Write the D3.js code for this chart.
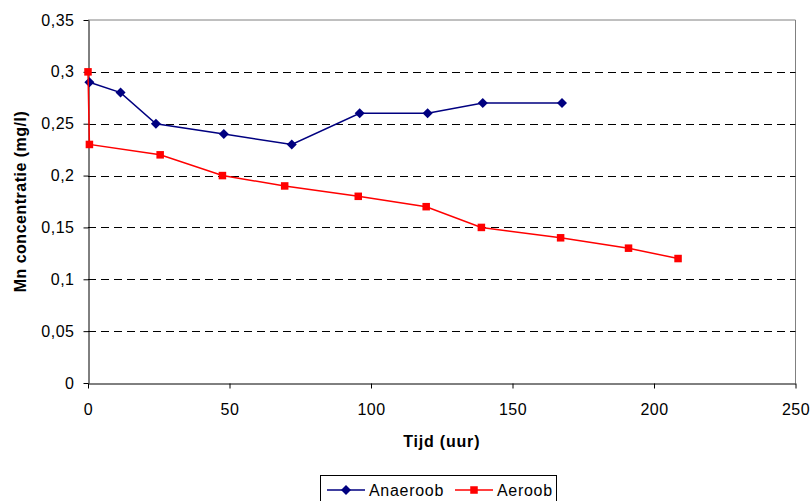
<!DOCTYPE html>
<html>
<head>
<meta charset="utf-8">
<script src="https://cdn.jsdelivr.net/npm/d3@7"></script>
<style>
  body { margin: 0; background: #fff; }
  svg { font-family: "Liberation Sans", Arial, sans-serif; }
</style>
</head>
<body>
<div id="chart"></div>
<script>
// data
let anaeroobTijd = [0.5, 11.5, 24, 48, 72, 96, 120, 139.5, 167.5];
let anaeroobMn = [0.29, 0.28, 0.25, 0.24, 0.23, 0.26, 0.26, 0.27, 0.27];
let aeroobTijd = [0, 0.5, 25.5, 47.5, 69.5, 95.5, 119.5, 139, 167, 191, 208.5];
let aeroobMn = [0.30, 0.23, 0.22, 0.20, 0.19, 0.18, 0.17, 0.15, 0.14, 0.13, 0.12];
let xTicks = [0, 50, 100, 150, 200, 250];
let yTicks = [0, 0.05, 0.1, 0.15, 0.2, 0.25, 0.3, 0.35];

let width = 811, height = 501;
let margin = ({top: 20, right: 15, bottom: 118, left: 88});

const svg = d3.select("#chart").append("svg")
    .attr("width", width)
    .attr("height", height);

const x = d3.scaleLinear().domain([0, 250]).range([margin.left, width - margin.right - 0.5]);
const y = d3.scaleLinear().domain([0, 0.35]).range([height - margin.bottom, margin.top]);

const fmt = d => d3.format(",")(d).replace(".", ",");

// plot border (gray top / right)
svg.append("path")
    .attr("d", `M${x(0)},${y(0.35)}H${x(250)}V${y(0)}`)
    .attr("fill", "none")
    .attr("stroke", "#808080")
    .attr("stroke-width", 1);

// dashed gridlines
svg.append("g")
  .selectAll("line")
  .data(yTicks.filter(d => d > 0 && d < 0.35))
  .join("line")
    .attr("x1", x(0)).attr("x2", x(250))
    .attr("y1", d => Math.round(y(d)) + 0.5).attr("y2", d => Math.round(y(d)) + 0.5)
    .attr("stroke", "#000")
    .attr("stroke-dasharray", "8,5");

// axes
const xAxis = svg.append("g")
    .attr("transform", `translate(0,${Math.round(y(0)) + 0.5})`)
    .call(d3.axisBottom(x).tickValues(xTicks).tickSize(5).tickSizeOuter(0).tickPadding(15).tickFormat(fmt));
const yAxis = svg.append("g")
    .attr("transform", `translate(${x(0) + 0.5},0)`)
    .call(d3.axisLeft(y).tickValues(yTicks).tickSize(5).tickSizeOuter(0).tickPadding(9).tickFormat(fmt));

[xAxis, yAxis].forEach(a => {
  a.select(".domain").attr("stroke", "#000");
  a.selectAll(".tick line").attr("stroke", "#000");
  a.selectAll(".tick text")
      .attr("fill", "#000")
      .style("font-size", "16px")
      .style("letter-spacing", "0.5px")
      .style("font-family", "'Liberation Sans', Arial, sans-serif");
});

// axis titles
svg.append("text")
    .attr("x", (x(0) + x(250)) / 2)
    .attr("y", 447)
    .attr("text-anchor", "middle")
    .style("font-size", "16px")
    .style("letter-spacing", "0.8px")
    .style("font-weight", "bold")
    .text("Tijd (uur)");

svg.append("text")
    .attr("transform", `translate(26,${(y(0) + y(0.35)) / 2}) rotate(-90)`)
    .attr("text-anchor", "middle")
    .style("font-size", "16px")
    .style("letter-spacing", "0.5px")
    .style("font-weight", "bold")
    .text("Mn concentratie (mg/l)");

// series
let series = [
  {name: "Anaeroob", color: "#000080", shape: d3.symbolDiamond2, size: 64,
   values: anaeroobTijd.map((t, i) => [t, anaeroobMn[i]])},
  {name: "Aeroob", color: "#FF0000", shape: d3.symbolSquare2, size: 72,
   values: aeroobTijd.map((t, i) => [t, aeroobMn[i]])}
];

const line = d3.line().x(d => x(d[0])).y(d => y(d[1]));

series.forEach(s => {
  svg.append("path")
      .datum(s.values)
      .attr("fill", "none")
      .attr("stroke", s.color)
      .attr("stroke-width", 1.5)
      .attr("d", line);
  svg.append("g")
    .selectAll("path")
    .data(s.values)
    .join("path")
      .attr("transform", d => `translate(${x(d[0])},${y(d[1])})`)
      .attr("d", d3.symbol().type(s.shape).size(s.size))
      .attr("fill", s.color);
});

// legend
const legend = svg.append("g");
legend.append("rect")
    .attr("x", 320.5).attr("y", 475.5)
    .attr("width", 236).attr("height", 30)
    .attr("fill", "#fff")
    .attr("stroke", "#000");

let legendX = [327, 455];
series.forEach((s, i) => {
  const g = legend.append("g").attr("transform", `translate(${legendX[i]},490)`);
  g.append("line").attr("x1", 0).attr("x2", 38)
      .attr("stroke", s.color).attr("stroke-width", 1.5);
  g.append("path")
      .attr("transform", "translate(19,0)")
      .attr("d", d3.symbol().type(s.shape).size(s.size))
      .attr("fill", s.color);
  g.append("text")
      .attr("x", 42).attr("y", 0).attr("dy", "0.36em")
      .style("font-size", "16px")
      .style("letter-spacing", "0.7px")
      .text(s.name);
});
</script>
</body>
</html>
